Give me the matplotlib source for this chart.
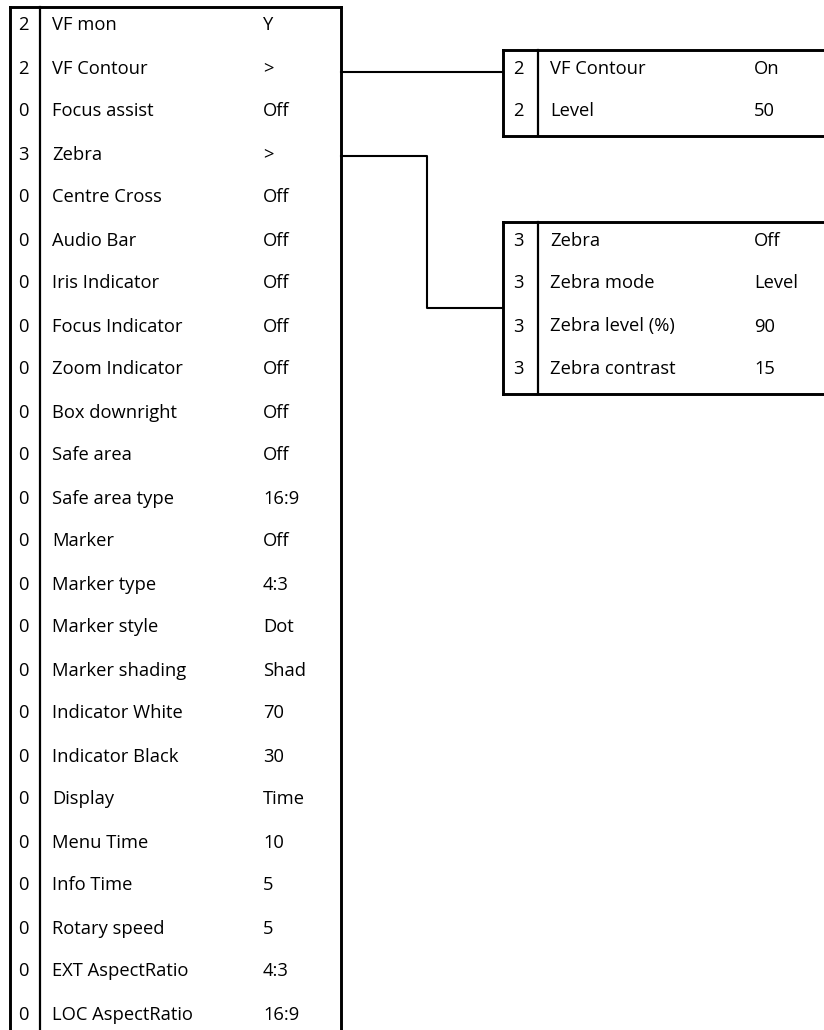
import matplotlib.pyplot as plt

plt.rcParams['font.family'] = ['Open Sans', 'DejaVu Sans']

# main menu: level, item, value
main_levels = [2, 2, 0, 3, 0, 0, 0, 0, 0, 0, 0, 0, 0, 0, 0, 0, 0, 0, 0, 0, 0, 0, 0, 0]
main_items = ['VF mon', 'VF Contour', 'Focus assist', 'Zebra', 'Centre Cross',
              'Audio Bar', 'Iris Indicator', 'Focus Indicator', 'Zoom Indicator',
              'Box downright', 'Safe area', 'Safe area type', 'Marker',
              'Marker type', 'Marker style', 'Marker shading', 'Indicator White',
              'Indicator Black', 'Display', 'Menu Time', 'Info Time',
              'Rotary speed', 'EXT AspectRatio', 'LOC AspectRatio']
main_values = ['Y', '>', 'Off', '>', 'Off', 'Off', 'Off', 'Off', 'Off', 'Off',
               'Off', '16:9', 'Off', '4:3', 'Dot', 'Shad', '70', '30', 'Time',
               '10', '5', '5', '4:3', '16:9']

# submenu VF Contour
contour_levels = [2, 2]
contour_items = ['VF Contour', 'Level']
contour_values = ['On', '50']

# submenu Zebra
zebra_levels = [3, 3, 3, 3]
zebra_items = ['Zebra', 'Zebra mode', 'Zebra level (%)', 'Zebra contrast']
zebra_values = ['Off', 'Level', '90', '15']

W, H = 824, 1030
TOP = 7
PITCH = 43
FS = 13.2

fig = plt.figure(figsize=(W / 100, H / 100), dpi=100)
ax = fig.add_axes([0, 0, 1, 1])
ax.set_xlim(0, W)
ax.set_ylim(H, 0)
ax.axis('off')


def draw_table(x0, x_div, x1, row0, levels, items, values, x_val, closed=True):
    y0 = TOP + row0 * PITCH
    y1 = y0 + len(items) * PITCH
    if not closed:
        y1 = H + 5
    lw = 2.1
    ax.plot([x0, x0], [y0, y1], color='black', lw=lw, solid_capstyle='projecting')
    ax.plot([x0, x1], [y0, y0], color='black', lw=lw, solid_capstyle='projecting')
    if closed:
        ax.plot([x0, x1], [y1, y1], color='black', lw=lw, solid_capstyle='projecting')
    else:
        ax.plot([x1, x1], [y0, y1], color='black', lw=lw, solid_capstyle='projecting')
    ax.plot([x_div, x_div], [y0, y1], color='black', lw=1.6)
    for i, (lv, it, va) in enumerate(zip(levels, items, values)):
        yc = y0 + (i + 0.5) * PITCH - 3
        ax.text((x0 + x_div) / 2 - 2, yc, str(lv), fontsize=FS, ha='center', va='center')
        ax.text(x_div + 12, yc, it, fontsize=FS, ha='left', va='center')
        ax.text(x_val, yc, va, fontsize=FS, ha='left', va='center')
    return y0, y1


draw_table(10, 40, 341, 0, main_levels, main_items, main_values, 263, closed=False)
draw_table(503, 538, W + 10, 1, contour_levels, contour_items, contour_values, 754)
zy0, zy1 = draw_table(503, 538, W + 10, 5, zebra_levels, zebra_items, zebra_values, 754)

# connector lines
src1 = TOP + (main_items.index('VF Contour') + 0.5) * PITCH
ax.plot([341, 503], [src1, src1], color='black', lw=1.5)
src2 = TOP + (main_items.index('Zebra') + 0.5) * PITCH - 2
mid2 = (zy0 + zy1) / 2
ax.plot([341, 427, 427, 503], [src2, src2, mid2, mid2], color='black', lw=1.5)

fig.savefig('out.png', dpi=100)
